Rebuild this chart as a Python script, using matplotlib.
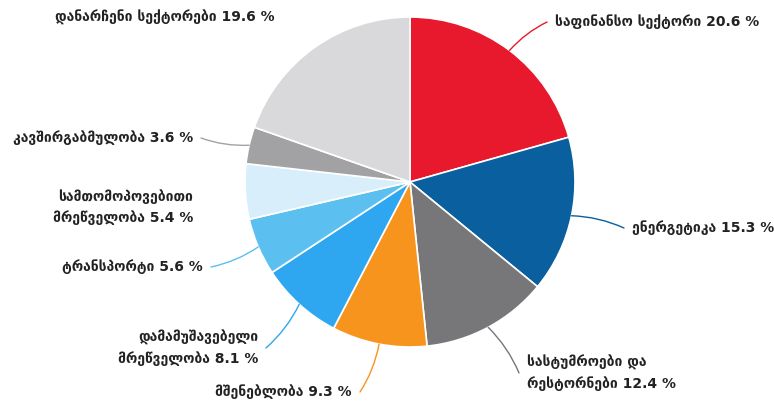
import numpy as np
import matplotlib.pyplot as plt

plt.rcParams['font.family'] = ['DejaVu Sans']

labels = ['საფინანსო სექტორი 20.6 %',
          'ენერგეტიკა 15.3 %',
          'სასტუმროები და\nრესტორნები 12.4 %',
          'მშენებლობა 9.3 %',
          'დამამუშავებელი\nმრეწველობა 8.1 %',
          'ტრანსპორტი 5.6 %',
          'სამთომოპოვებითი\nმრეწველობა 5.4 %',
          'კავშირგაბმულობა 3.6 %',
          'დანარჩენი სექტორები 19.6 %']
values = [20.6, 15.3, 12.4, 9.3, 8.1, 5.6, 5.4, 3.6, 19.6]
colors = ['#e8192c', '#0a5f9e', '#77777a', '#f7941d', '#2ea7f0',
          '#5bbff0', '#d8effb', '#a2a2a5', '#d9d9db']

# label anchor positions (pixels, y from top) and alignment
label_pos = [(555, 22, 'left'), (632, 228, 'left'), (527, 373, 'left'),
             (352, 392, 'right'), (258, 348, 'right'), (203, 267, 'right'),
             (193, 207, 'right'), (193, 138, 'right'), (275, 17, 'right')]
show_line = [True, True, True, True, True, True, False, True, False]

W, H = 774, 403
fig = plt.figure(figsize=(W / 100, H / 100), dpi=100)
ax = fig.add_axes([0, 0, 1, 1])
ax.set_xlim(0, W)
ax.set_ylim(0, H)
ax.set_aspect('equal')
ax.axis('off')

cx, cy, r = 410, H - 182, 165
wedges, _ = ax.pie(values, colors=colors, startangle=90, counterclock=False,
                   center=(cx, cy), radius=r, frame=True,
                   wedgeprops=dict(edgecolor='white', linewidth=1.2))
ax.set_xlim(0, W)
ax.set_ylim(0, H)
ax.axis('off')

for w, lab, (lx, ly, ha), sl in zip(wedges, labels, label_pos, show_line):
    ang = np.deg2rad((w.theta1 + w.theta2) / 2)
    x0 = cx + r * np.cos(ang)
    y0 = cy + r * np.sin(ang)
    tx = lx - 8 if ha == 'left' else lx + 8
    ax.text(lx, H - ly, lab, ha=ha, va='center', fontsize=10,
            fontweight='bold', color='#222222', linespacing=1.5)
    if sl:
        ax.annotate('', xy=(x0, y0), xytext=(tx, H - ly),
                    arrowprops=dict(arrowstyle='-', color=w.get_facecolor(),
                                    lw=1, connectionstyle='arc3,rad=0.1',
                                    shrinkA=0, shrinkB=0))

fig.savefig('out.png', dpi=100)
